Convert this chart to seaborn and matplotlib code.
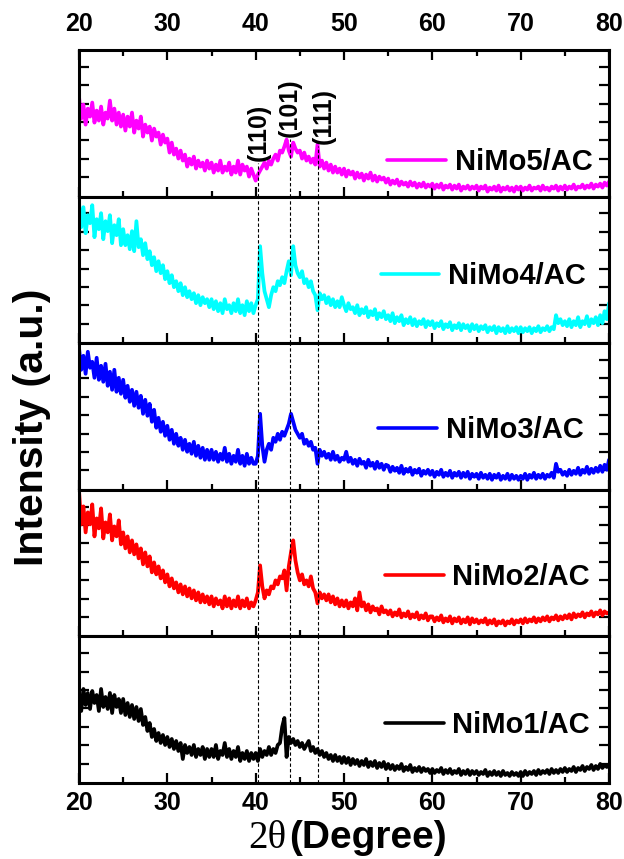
import numpy as np
import pandas as pd
import matplotlib
matplotlib.use("Agg")
import matplotlib.pyplot as plt
import seaborn as sns
from matplotlib.ticker import MultipleLocator

# ---------------- data (arbitrary units) ----------------
two_theta = np.arange(20.0, 80.001, 0.25)

nimo5 = [100, 78, 92, 72, 88, 80, 94, 74, 86, 76, 90, 72, 84, 78, 96, 76, 88, 72, 84, 70,
         82, 66, 80, 70, 84, 64, 76, 68, 80, 60, 72, 64, 70, 56, 68, 60, 64, 52, 62, 54,
         58, 44, 54, 42, 48, 38, 46, 36, 42, 30, 38, 32, 40, 28, 36, 30, 34, 26, 36, 28,
         34, 24, 32, 26, 36, 24, 30, 26, 34, 22, 30, 24, 36, 22, 32, 26, 30, 20, 28, 22,
         16, 22, 26, 30, 34, 28, 36, 32, 38, 42, 36, 46, 44, 50, 57, 46, 40, 54, 48, 44,
         46, 38, 44, 36, 40, 34, 38, 32, 52, 30, 36, 28, 34, 26, 32, 24, 30, 24, 28, 22,
         28, 20, 26, 22, 25, 18, 24, 19, 23, 16, 22, 18, 24, 16, 21, 15, 20, 17, 19, 14,
         18, 12, 16, 13, 17, 11, 15, 12, 14, 10, 15, 11, 14, 9, 13, 10, 14, 9, 12, 10,
         13, 8, 12, 9, 13, 7, 11, 9, 12, 7, 11, 8, 12, 6, 10, 8, 11, 7, 10, 8,
         11, 6, 10, 8, 11, 5, 9, 7, 10, 6, 11, 5, 9, 7, 10, 6, 9, 5, 10, 7,
         10, 6, 9, 7, 11, 6, 9, 8, 10, 6, 11, 7, 9, 6, 10, 8, 11, 6, 10, 7,
         11, 7, 10, 8, 12, 7, 10, 9, 12, 8, 11, 9, 13, 8, 12, 10, 13, 9, 14, 11,
         15]

nimo4 = [140, 116, 136, 110, 128, 120, 138, 106, 124, 114, 130, 104, 122, 112, 128, 100, 118, 108, 124, 98,
         114, 98, 108, 94, 112, 92, 122, 96, 104, 88, 100, 84, 92, 78, 86, 72, 82, 70, 78, 64,
         72, 60, 68, 56, 62, 52, 60, 48, 56, 46, 52, 44, 50, 40, 48, 38, 46, 40, 44, 36,
         44, 34, 42, 32, 40, 30, 44, 34, 38, 30, 40, 32, 44, 30, 38, 28, 42, 32, 40, 30,
         38, 44, 97, 70, 52, 44, 36, 48, 56, 52, 62, 58, 66, 60, 72, 82, 68, 97, 78, 70,
         66, 72, 60, 64, 56, 62, 52, 48, 33, 50, 44, 48, 40, 46, 38, 44, 36, 42, 36, 46,
         38, 32, 40, 34, 36, 30, 38, 28, 34, 30, 36, 26, 32, 28, 34, 24, 30, 26, 32, 24,
         28, 22, 30, 20, 26, 22, 28, 18, 24, 20, 26, 18, 24, 17, 22, 19, 24, 16, 22, 18,
         22, 15, 20, 17, 22, 14, 19, 16, 21, 13, 18, 15, 20, 13, 19, 15, 18, 12, 19, 14,
         18, 12, 17, 14, 18, 11, 16, 13, 17, 10, 16, 12, 15, 10, 17, 11, 15, 12, 16, 10,
         16, 11, 15, 12, 16, 10, 15, 12, 17, 11, 15, 13, 17, 12, 16, 14, 28, 20, 24, 18,
         22, 17, 24, 16, 22, 18, 26, 16, 22, 19, 27, 17, 24, 20, 26, 18, 28, 20, 32, 24,
         40]

nimo3 = [142, 120, 134, 116, 138, 122, 128, 112, 132, 110, 124, 108, 126, 104, 118, 100, 120, 98, 112, 96,
         110, 92, 104, 88, 100, 84, 98, 82, 94, 76, 90, 74, 86, 68, 80, 62, 72, 58, 68, 54,
         64, 50, 60, 46, 56, 44, 52, 40, 50, 38, 46, 36, 48, 34, 44, 32, 42, 30, 40, 30,
         40, 30, 38, 28, 36, 30, 42, 28, 36, 26, 34, 28, 40, 26, 34, 24, 36, 26, 32, 26,
         26, 34, 76, 44, 28, 40, 46, 40, 52, 48, 56, 50, 58, 54, 60, 66, 76, 68, 60, 56,
         52, 56, 46, 50, 44, 48, 40, 42, 26, 40, 34, 38, 32, 36, 30, 38, 30, 34, 28, 32,
         30, 38, 28, 32, 26, 30, 24, 31, 26, 28, 22, 30, 24, 27, 21, 28, 22, 26, 20, 25,
         24, 18, 23, 19, 22, 17, 24, 16, 21, 18, 22, 15, 20, 17, 21, 14, 19, 16, 20, 15,
         19, 13, 18, 15, 20, 13, 17, 14, 19, 12, 17, 14, 18, 12, 17, 13, 18, 11, 16, 13,
         16, 11, 17, 12, 15, 11, 16, 10, 15, 12, 16, 10, 14, 11, 16, 10, 15, 11, 14, 10,
         14, 11, 16, 10, 15, 12, 17, 11, 15, 12, 16, 11, 15, 13, 17, 12, 26, 18, 20, 15,
         18, 14, 20, 15, 19, 16, 22, 15, 20, 17, 23, 16, 21, 17, 22, 18, 24, 18, 25, 20,
         30]

nimo2 = [146, 112, 130, 104, 124, 112, 132, 100, 118, 108, 128, 98, 114, 104, 122, 96, 110, 100, 116, 92,
         104, 88, 100, 84, 96, 82, 92, 78, 88, 72, 84, 70, 80, 64, 74, 62, 70, 58, 66, 54,
         62, 50, 58, 48, 54, 44, 52, 42, 50, 40, 48, 38, 46, 36, 44, 34, 42, 34, 40, 32,
         40, 30, 38, 32, 36, 28, 40, 30, 38, 28, 36, 30, 40, 28, 36, 30, 38, 28, 34, 30,
         36, 44, 71, 50, 38, 46, 42, 50, 48, 56, 52, 60, 58, 66, 46, 70, 84, 96, 76, 64,
         56, 62, 52, 56, 50, 60, 48, 44, 33, 44, 38, 42, 36, 42, 34, 40, 32, 38, 30, 36,
         30, 36, 28, 34, 30, 38, 26, 44, 30, 34, 26, 32, 24, 30, 26, 28, 22, 30, 24, 26,
         22, 26, 20, 24, 21, 27, 19, 23, 20, 25, 18, 22, 19, 24, 17, 21, 18, 23, 16, 20,
         20, 15, 19, 16, 21, 14, 18, 15, 20, 13, 18, 15, 19, 13, 17, 14, 19, 12, 18, 14,
         17, 13, 16, 14, 18, 12, 16, 13, 17, 11, 15, 13, 16, 11, 15, 13, 17, 12, 16, 14,
         17, 13, 18, 14, 17, 15, 19, 14, 18, 15, 19, 16, 20, 15, 19, 17, 21, 16, 20, 17,
         21, 18, 22, 17, 23, 19, 22, 20, 24, 19, 23, 21, 25, 20, 24, 22, 26, 21, 25, 23,
         24]

nimo1 = [86, 72, 94, 78, 90, 74, 92, 80, 88, 72, 94, 76, 86, 74, 90, 70, 88, 76, 84, 70,
         84, 68, 80, 66, 78, 64, 76, 62, 74, 58, 66, 52, 60, 46, 54, 42, 50, 40, 48, 38,
         46, 36, 44, 34, 42, 32, 40, 24, 38, 30, 36, 28, 38, 26, 34, 28, 36, 24, 34, 26,
         34, 26, 38, 24, 32, 28, 40, 26, 34, 24, 32, 26, 36, 22, 30, 24, 32, 22, 30, 24,
         30, 22, 34, 26, 32, 28, 36, 28, 34, 30, 38, 40, 56, 65, 26, 46, 40, 44, 38, 42,
         36, 40, 34, 38, 42, 32, 36, 30, 34, 28, 32, 26, 30, 24, 28, 22, 28, 22, 26, 20,
         26, 20, 25, 18, 24, 19, 23, 17, 22, 18, 24, 16, 21, 17, 22, 15, 20, 16, 21, 14,
         19, 14, 18, 13, 17, 14, 19, 12, 16, 13, 18, 11, 15, 12, 16, 11, 15, 12, 14, 10,
         14, 10, 13, 11, 15, 9, 13, 10, 14, 9, 12, 10, 14, 8, 12, 9, 13, 8, 12, 9,
         12, 8, 11, 9, 13, 7, 11, 8, 12, 8, 11, 7, 12, 8, 10, 7, 11, 8, 10, 7,
         11, 7, 12, 8, 11, 9, 12, 8, 13, 9, 12, 10, 13, 9, 14, 10, 13, 10, 14, 11,
         15, 11, 14, 12, 16, 11, 15, 13, 17, 12, 16, 14, 18, 13, 17, 14, 19, 15, 18, 16,
         18]

samples = ["NiMo5/AC", "NiMo4/AC", "NiMo3/AC", "NiMo2/AC", "NiMo1/AC"]
series = [nimo5, nimo4, nimo3, nimo2, nimo1]
colors = ["#FF00FF", "#00FFFF", "#0000FF", "#FF0000", "#000000"]

peak_pos = [40.3, 43.9, 47.1]
peak_labels = ["(110)", "(101)", "(111)"]
x_ticks = [20, 30, 40, 50, 60, 70, 80]

df = pd.concat(
    [pd.DataFrame({"two_theta": two_theta, "intensity": s, "sample": n})
     for n, s in zip(samples, series)],
    ignore_index=True)

# ---------------- style ----------------
sns.set_style("ticks")
plt.rcParams["font.family"] = ["Liberation Sans", "DejaVu Sans"]
plt.rcParams["font.weight"] = "bold"
for key in ["text.color", "axes.edgecolor", "axes.labelcolor",
            "xtick.color", "ytick.color"]:
    plt.rcParams[key] = "black"

fig, axes = plt.subplots(5, 1, figsize=(6.24, 8.59), dpi=100, sharex=True)
fig.subplots_adjust(left=0.1266, right=0.976, top=0.9418, bottom=0.0885, hspace=0)

panel_h = 146.6
ytick_pos = [19.3 + 18.4 * k for k in range(7)]
legend_anchor = [(0.582, 0.236), (0.569, 0.458), (0.565, 0.408),
                 (0.578, 0.405), (0.578, 0.396)]
top_line_h = [34, 58, 51]
label_pos = [(40.3, 36), (43.9, 60), (47.7, 53)]

for i, ax in enumerate(axes):
    name = samples[i]
    sns.lineplot(data=df[df["sample"] == name], x="two_theta", y="intensity",
                 color=colors[i], linewidth=2.7, ax=ax, label=name,
                 estimator=None, sort=False)
    ax.set_xlim(20, 80)
    ax.set_ylim(0, panel_h)
    ax.set_xticks(x_ticks)
    ax.xaxis.set_minor_locator(MultipleLocator(5))
    ax.set_yticks(ytick_pos)
    ax.set_yticklabels([])
    ax.set_xlabel("")
    ax.set_ylabel("")
    for sp in ax.spines.values():
        sp.set_visible(True)
        sp.set_linewidth(2.2)
        sp.set_color("black")
    ax.tick_params(axis="both", which="both", direction="in", width=1.6,
                   color="black", labelcolor="black")
    ax.tick_params(axis="y", left=True, right=True, length=7)
    ax.tick_params(axis="x", which="major", length=7.5)
    ax.tick_params(axis="x", which="minor", length=4)
    ax.tick_params(axis="x", which="both", bottom=True, top=(i == 0),
                   labelbottom=(i == 4), labeltop=(i == 0))
    ax.tick_params(axis="x", which="major", labelsize=18)
    ax.tick_params(axis="x", which="major", pad=(10 if i == 0 else 6))
    for lab in ax.get_xticklabels():
        lab.set_fontweight("bold")

    # dashed reference lines
    for j, p in enumerate(peak_pos):
        if i == 0:
            ax.vlines(p, 0, top_line_h[j], colors="k", linestyles=(0, (3, 2)),
                      linewidth=0.8, zorder=3)
        else:
            ax.axvline(p, color="k", linestyle=(0, (3, 2)), linewidth=0.8, zorder=3)

    leg = ax.legend(loc="center left", bbox_to_anchor=legend_anchor[i],
                    frameon=False, handlelength=2.0, handletextpad=0.3,
                    borderpad=0, borderaxespad=0,
                    prop={"weight": "bold", "size": 21})
    for ln in leg.get_lines():
        ln.set_linewidth(2.6)
    for t in leg.get_texts():
        t.set_color("black")

for (px, ph), lab in zip(label_pos, peak_labels):
    axes[0].text(px, ph, lab, rotation=90, ha="center", va="bottom",
                 fontsize=18, fontweight="bold", color="black")

fig.text(0.052, 0.502, "Intensity (a.u.)", rotation=90, ha="center",
         va="center", fontsize=29.5, fontweight="bold", color="black")
fig.text(0.459, 0.0244, "2θ", ha="right", va="center", fontsize=28,
         family=["Liberation Serif", "DejaVu Serif"], fontweight="normal",
         color="black")
fig.text(0.463, 0.0244, "(Degree)", ha="left", va="center", fontsize=28,
         fontweight="bold", color="black")

fig.savefig("out.png", dpi=100)
